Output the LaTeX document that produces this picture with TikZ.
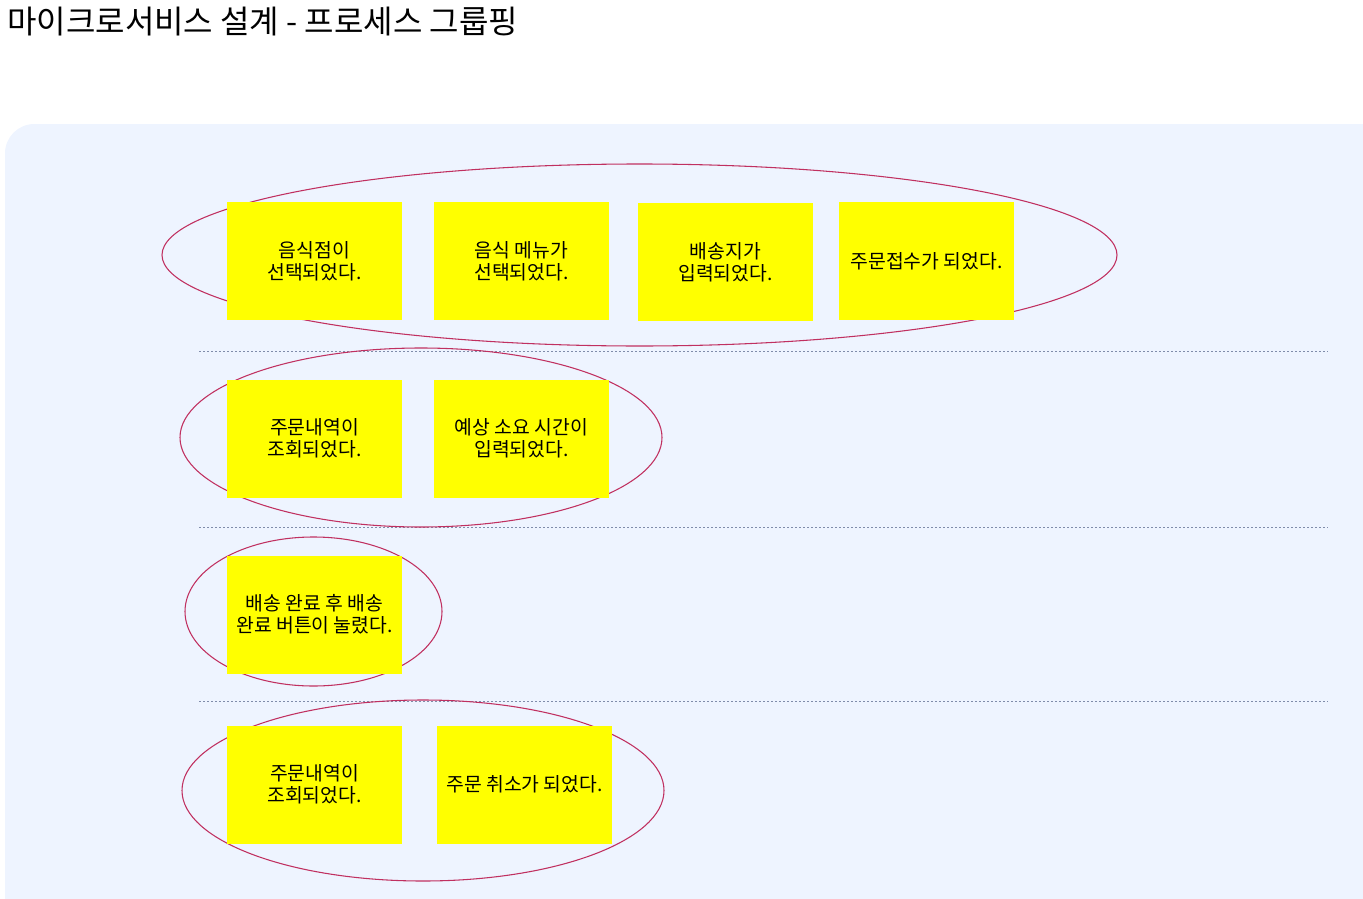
\documentclass[tikz,border=0pt]{standalone}
\usepackage{fontspec}
\setmainfont{Noto Sans CJK KR}
\usepackage{tikz}
\usetikzlibrary{shapes.geometric, positioning}
\definecolor{PanelBg}{RGB}{238,244,255}
\definecolor{StickyYellow}{RGB}{255,255,0}
\definecolor{GroupLine}{RGB}{192,48,96}
\definecolor{LaneGray}{RGB}{128,140,170}

\begin{document}
\begin{tikzpicture}[x=0.75pt,y=-0.75pt,
    sticky/.style={fill=StickyYellow, minimum width=131.25pt, minimum height=88.5pt,
      inner sep=2pt, align=center, font=\fontsize{14.5}{16.5}\selectfont},
    group/.style 2 args={ellipse, draw=GroupLine, line width=0.8pt, inner sep=0pt,
      minimum width=#1*0.75pt, minimum height=#2*0.75pt},
    lane/.style={LaneGray, line width=0.6pt, dash pattern=on 1.5pt off 1.5pt}]
  \useasboundingbox (0,0) rectangle (1363,899);
  \clip (0,0) rectangle (1363,899);
  % Title
  \node[anchor=west, inner sep=0pt, font=\fontsize{24}{28}\selectfont] (title) at (7,22)
    {마이크로서비스 설계 - 프로세스 그룹핑};
  % Board
  \fill[PanelBg, rounded corners=22pt] (5,960) rectangle (1420,124);
  % Lanes
  \foreach \y in {351,527,701}{
    \draw[lane] (199,\y) -- (1328,\y);
  }
  % Groups
  \node[group={955}{182}] (grpOrder) at (639.5,255) {};
  \node[group={482}{179}] (grpCheck) at (421,437.5) {};
  \node[group={257}{149}] (grpDone) at (313.5,611.5) {};
  \node[group={482}{181}] (grpCancel) at (423,790.5) {};
  % Events
  \node[sticky] (evStore) at (314.5,261) {음식점이\\선택되었다.};
  \node[sticky] (evMenu) at (521.5,261) {음식 메뉴가\\선택되었다.};
  \node[sticky] (evAddr) at (725.5,262) {배송지가\\입력되었다.};
  \node[sticky] (evAccept) at (926.5,261) {주문접수가 되었다.};
  \node[sticky] (evView) at (314.5,438.5) {주문내역이\\조회되었다.};
  \node[sticky] (evEta) at (521.5,438.5) {예상 소요 시간이\\입력되었다.};
  \node[sticky] (evDone) at (314.5,614.5) {배송 완료 후 배송\\완료 버튼이 눌렸다.};
  \node[sticky] (evView2) at (314.5,784.5) {주문내역이\\조회되었다.};
  \node[sticky] (evCancel) at (524.5,784.5) {주문 취소가 되었다.};
\end{tikzpicture}
\end{document}
